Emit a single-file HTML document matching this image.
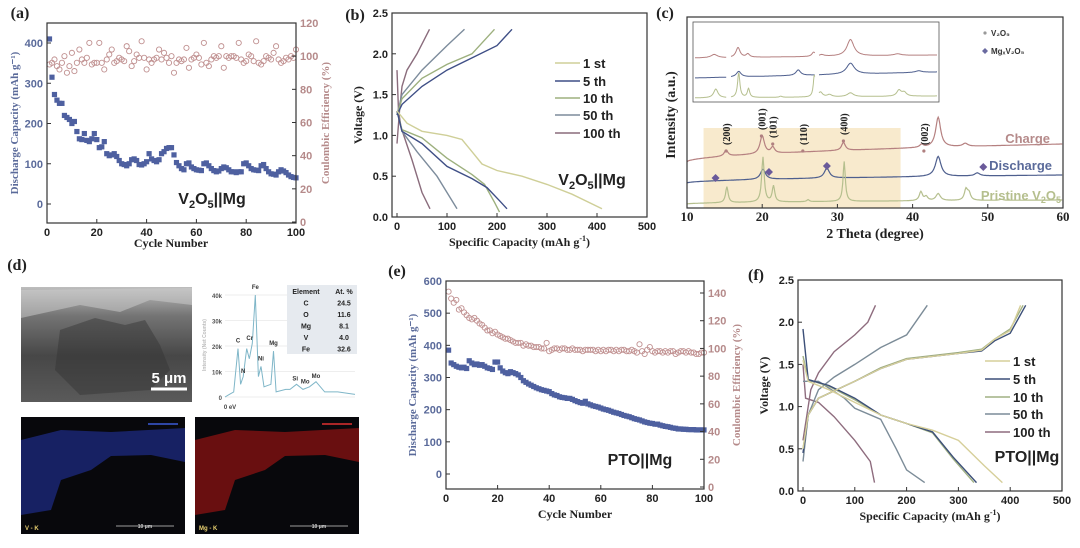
<!DOCTYPE html>
<html><head><meta charset="utf-8"><style>
body{margin:0;background:#fff}
svg{display:block}
.t{font-family:"Liberation Serif",serif;font-weight:bold}
.s{font-family:"Liberation Sans",sans-serif;font-weight:bold}
</style></head><body>
<svg id="fig" width="1080" height="548" viewBox="0 0 1080 548" xmlns="http://www.w3.org/2000/svg">
<defs>
<linearGradient id="sem" x1="0" y1="0" x2="0" y2="1"><stop offset="0" stop-color="#bdbdbd"/><stop offset="0.25" stop-color="#747474"/><stop offset="0.6" stop-color="#474747"/><stop offset="1" stop-color="#5a5a5a"/></linearGradient>
</defs>
<g id="root"></g>
</svg>
<script>
// ---------- data ----------
const aCycles=[];for(let i=1;i<=100;i++)aCycles.push(i);
const aCap=[410,315,272,258,250,250,220,215,210,200,205,180,162,160,175,158,155,162,175,160,140,142,155,125,120,122,125,118,108,100,98,95,100,110,112,108,98,97,100,105,125,112,108,105,110,125,130,138,140,140,122,103,95,88,85,100,102,92,88,85,84,83,100,102,95,88,83,80,82,88,92,90,85,80,80,78,80,80,100,102,95,88,85,84,83,95,98,88,80,75,74,72,80,85,82,78,72,68,66,65];
const aCE=[95,96,98,94,92,96,100,90,94,102,91,96,104,98,96,99,108,95,96,96,108,96,92,98,101,104,96,97,99,98,97,106,103,94,97,101,99,109,99,92,98,96,98,99,104,98,102,99,96,100,90,96,98,97,98,105,93,98,99,101,99,95,108,96,94,98,100,99,100,106,93,100,99,100,100,99,108,98,96,97,101,100,97,109,96,95,97,100,99,98,102,106,98,96,97,99,98,100,99,104];
const eCap=[385,345,340,335,332,330,332,328,352,345,340,342,338,340,335,330,328,325,348,348,330,320,315,312,318,315,312,308,300,290,285,280,276,272,268,265,262,260,258,256,250,246,244,240,238,237,235,235,232,228,225,222,220,226,218,215,212,210,208,205,202,200,198,195,192,190,188,185,182,180,178,175,172,170,168,165,162,160,158,157,155,155,152,150,148,147,145,143,142,140,140,139,139,138,138,138,137,137,137,137];
const eCE=[141,136,133,135,128,129,126,124,122,121,122,120,118,117,115,113,113,111,112,110,109,108,107,107,106,105,104,104,104,102,103,102,102,101,101,101,100,100,104,98,99,100,100,99,100,100,99,99,100,99,99,99,98,99,99,99,99,98,99,98,99,98,99,99,98,99,98,99,99,98,98,99,98,97,103,98,96,99,101,98,97,98,98,97,98,97,98,98,96,97,98,98,97,98,97,97,96,96,97,97];
const aXTicks=[0,20,40,60,80,100], aYTicks=[0,100,200,300,400], aRTicks=[0,20,40,60,80,100,120];
const eYTicks=[0,100,200,300,400,500,600], eRTicks=[0,20,40,60,80,100,120,140];
const gcdXTicks=[0,100,200,300,400,500], gcdYTicks=[0,0.5,1.0,1.5,2.0,2.5];
const xrdXTicks=[10,20,30,40,50,60];
const cycleLabels=["1 st","5 th","10 th","50 th","100 th"];
const bColors=["#cfcf98","#3f4f86","#9db07e","#7d8c9c","#8a6c7c"];
const fColors=["#d6cf9a","#3c4f78","#a0b083","#7c8c98","#8e6c7e"];
const bDis=[
[[0,1.3],[20,1.15],[50,1.05],[100,1.0],[130,0.95],[150,0.8],[170,0.65],[200,0.57],[250,0.5],[300,0.4],[350,0.28],[410,0.1]],
[[0,1.3],[10,1.05],[50,0.9],[100,0.62],[150,0.47],[180,0.36],[205,0.2],[220,0.1]],
[[0,1.3],[10,1.07],[50,0.97],[100,0.72],[150,0.52],[175,0.4],[195,0.18],[205,0.06]],
[[0,1.3],[10,1.05],[40,0.8],[80,0.5],[100,0.3],[120,0.1]],
[[0,1.8],[3,1.3],[8,1.1],[30,0.7],[50,0.3],[66,0.1]]];
const bCha=[
[],
[[0,1.25],[10,1.38],[50,1.6],[100,1.8],[150,1.95],[200,2.1],[230,2.3]],
[[0,1.25],[10,1.45],[50,1.7],[100,1.87],[150,2.0],[195,2.3]],
[[0,1.25],[10,1.5],[50,1.8],[100,2.1],[135,2.3]],
[[0,0.9],[5,1.3],[10,1.6],[20,1.8],[40,2.0],[65,2.3]]];
const fDis=[
[[0,1.55],[10,1.3],[50,1.2],[100,1.05],[150,0.9],[200,0.8],[250,0.72],[300,0.6],[350,0.3],[385,0.1]],
[[0,1.92],[10,1.32],[50,1.25],[100,1.1],[150,0.9],[200,0.8],[250,0.7],[290,0.4],[335,0.1]],
[[0,1.6],[10,1.32],[50,1.24],[100,1.08],[150,0.9],[200,0.8],[250,0.69],[290,0.38],[330,0.1]],
[[0,1.3],[30,1.3],[80,1.1],[100,0.98],[150,0.85],[180,0.5],[200,0.25],[235,0.1]],
[[0,1.5],[5,1.1],[30,1.05],[60,0.88],[100,0.6],[130,0.35],[138,0.1]]];
const fCha=[
[[0,0.5],[10,0.9],[30,1.1],[100,1.3],[150,1.45],[200,1.56],[300,1.63],[345,1.67],[370,1.8],[400,1.9],[420,2.2]],
[[0,0.45],[10,0.9],[30,1.1],[100,1.3],[150,1.45],[200,1.56],[300,1.63],[345,1.66],[370,1.78],[400,1.87],[430,2.2]],
[[0,0.5],[10,0.9],[30,1.1],[100,1.3],[150,1.46],[200,1.57],[300,1.64],[345,1.68],[370,1.8],[400,1.92],[425,2.2]],
[[0,0.35],[10,0.9],[30,1.2],[60,1.35],[100,1.5],[150,1.7],[200,1.85],[240,2.2]],
[[0,0.6],[15,1.2],[30,1.4],[60,1.65],[100,1.85],[125,2.0],[140,2.2]]];
const xrdNames=["Charge","Discharge","Pristine"];
const xrdColors=["#b58080","#4e5f8e","#b5bf8e"];
const xrdBase=[[0,18],[0,8],[0,4]];
const xrdPeaks=[
[[15.2,6,0.3],[20.0,18,0.35],[21.4,6,0.3],[30.8,8,0.3],[41.2,3,0.3],[43.4,30,0.4],[47.0,3,0.4]],
[[20.1,10,0.4],[28.6,10,0.4],[43.4,20,0.45],[48.6,3,0.4]],
[[15.3,16,0.2],[20.1,45,0.2],[21.5,16,0.2],[26.1,2,0.2],[30.9,40,0.18],[41.1,9,0.25],[41.8,4,0.25],[43.4,7,0.35],[47.1,11,0.25],[47.5,7,0.25],[51.8,1,0.3]]];
const eds=[[0,0],[1,1],[2,2],[3,19],[3.6,5],[4.2,8],[5,19],[5.6,15],[6.3,21],[7,40],[7.7,8],[8.3,12],[9,4],[10.6,5],[11.2,18],[11.8,2],[14,3],[15,3],[16.5,5],[18,3],[19.5,4],[21,6],[23,2],[26,2],[30,1]];
// ---------- helpers ----------
const NS="http://www.w3.org/2000/svg";const root=document.getElementById('root');
function el(tag,attrs,parent,txt){const e=document.createElementNS(NS,tag);for(const k in attrs)e.setAttribute(k,attrs[k]);if(txt!==undefined)e.textContent=txt;(parent||root).appendChild(e);return e;}
function grp(name){const g=el('g',{});return g;}
function lin(d0,d1,r0,r1){return v=>r0+(v-d0)/(d1-d0)*(r1-r0);}
function txt(g,x,y,s,opt){opt=opt||{};const t=el('text',{x:x,y:y,'font-size':opt.fs||11,fill:opt.fill||'#222','text-anchor':opt.anchor||'middle',class:opt.cls||'t'},g,s);if(opt.rot)t.setAttribute('transform','rotate(-90 '+x+' '+y+')');return t;}
function frame(g,x0,y0,x1,y1){const r=el('rect',{x:x0,y:y0,width:x1-x0,height:y1-y0,fill:'none',stroke:'#333','stroke-width':1.2},g);}
function xticks(g,ticks,sx,y,opt){opt=opt||{};ticks.forEach(v=>{const X=sx(v);const l=el('line',{x1:X,y1:y,x2:X,y2:y-4,stroke:'#333'},g);txt(g,X,y+13,String(v),{fs:opt.fs||11,cls:opt.cls||'s',fill:opt.fill||'#222',name:'x-tick-label'});});}
function yticks(g,ticks,sy,x,side,opt){opt=opt||{};ticks.forEach(v=>{const Y=sy(v);const l=el('line',{x1:x,y1:Y,x2:x+(side<0?4:-4),y2:Y,stroke:'#333'},g);const s=opt.fmt?opt.fmt(v):String(v);txt(g,side<0?x-4:x+4,Y+4,s,{fs:opt.fs||11,cls:'s',fill:opt.fill||'#222',anchor:side<0?'end':'start',name:'y-tick-label'});});}
function poly(g,pts,sx,sy,color,w,name){const d=pts.map((p,i)=>(i?'L':'M')+sx(p[0]).toFixed(1)+' '+sy(p[1]).toFixed(1)).join(' ');const p=el('path',{d:d,fill:'none',stroke:color,'stroke-width':w||1.4},g);return p;}

// ---------- panel a ----------
(function(){const g=grp('panel-a');
const X0=47,X1=296,Y0=23,Y1=223;const sx=lin(0,100,X0,X1),sy=lin(0,400,204,43),sr=lin(0,120,222,23);
txt(g,20,18,'(a)',{fs:16,anchor:'middle',name:'panel-label-a'});
aCE.forEach((v,i)=>{const c=el('circle',{cx:sx(aCycles[i]),cy:sr(v),r:2.6,fill:'none',stroke:'#c09090','stroke-width':0.9},g);});
aCap.forEach((v,i)=>{const r=el('rect',{x:sx(aCycles[i])-2.6,y:sy(v)-2.6,width:5.2,height:5.2,fill:'#4e60a0'},g);});
frame(g,X0,Y0,X1,Y1);
xticks(g,aXTicks,sx,Y1,{});yticks(g,aYTicks,sy,X0,-1,{fill:'#5a6a9a'});yticks(g,aRTicks,sr,X1,1,{fill:'#b58a8a'});
txt(g,171,247,'Cycle Number',{fs:12,name:'x-axis-title'});
txt(g,18,123,'Discharge Capacity (mAh g⁻¹)',{fs:11,rot:1,fill:'#5a6a9a',name:'y-axis-title'});
txt(g,329,123,'Coulombic Efficiency (%)',{fs:11,rot:1,fill:'#b58a8a',name:'y2-axis-title'});
const t=txt(g,212,204,'',{fs:16,cls:'s',name:'series-label'});t.innerHTML='V<tspan font-size="11" dy="4">2</tspan><tspan dy="-4">O</tspan><tspan font-size="11" dy="4">5</tspan><tspan dy="-4">||Mg</tspan>';
})();

// ---------- GCD panels ----------
function gcd(name,label,lx,ly,X0,X1,Y0,Y1,dis,cha,colors,legY,legX,tag,tagX,tagY){const g=grp(name);
const sx=lin(0,500,X0+5,X1),sy=lin(0,2.5,Y1,Y0);
txt(g,lx,ly,label,{fs:16,name:'panel-label'});
for(let i=dis.length-1;i>=0;i--){poly(g,dis[i],sx,sy,colors[i],1.4,'discharge-'+cycleLabels[i].replace(' ',''));if(cha[i].length)poly(g,cha[i],sx,sy,colors[i],1.4,'charge-'+cycleLabels[i].replace(' ',''));}
frame(g,X0,Y0,X1,Y1);
xticks(g,gcdXTicks,sx,Y1,{});yticks(g,gcdYTicks,sy,X0,-1,{fmt:v=>v.toFixed(1)});
txt(g,(X0+X1)/2,Y1+29,'',{fs:12,name:'x-axis-title'}).innerHTML='Specific Capacity (mAh g<tspan font-size="8" dy="-5">-1</tspan><tspan dy="5">)</tspan>';
txt(g,X0-30,(Y0+Y1)/2,'Voltage (V)',{fs:12,rot:1,name:'y-axis-title'});
cycleLabels.forEach((s,i)=>{const y=legY[i];const l=el('line',{x1:legX,y1:y,x2:legX+25,y2:y,stroke:colors[i],'stroke-width':1.6},g);txt(g,legX+28,y+5,s,{fs:13,cls:'s',anchor:'start',name:'legend-entry'});});
const t=txt(g,tagX,tagY,'',{fs:16,cls:'s',name:'series-label'});t.innerHTML=tag;}
gcd('panel-b','(b)',355,20,392,647,13,217,bDis,bCha,bColors,[63,81,98,115,133],555,'V<tspan font-size="11" dy="4">2</tspan><tspan dy="-4">O</tspan><tspan font-size="11" dy="4">5</tspan><tspan dy="-4">||Mg</tspan>',592,185);
gcd('panel-f','(f)',756,280,798,1062,280,491,fDis,fCha,fColors,[361,379,397,414,432],985,'PTO||Mg',1027,462);

// ---------- panel c ----------
(function(){const g=grp('panel-c');const X0=687,X1=1063,Y0=17,Y1=208;const sx=lin(10,60,X0,X1);
txt(g,665,18,'(c)',{fs:16,name:'panel-label-c'});
const sh=el('rect',{x:sx(12.2),y:128,width:sx(38.4)-sx(12.2),height:Y1-128,fill:'#f7e6c4',opacity:0.85},g);
const baseY=[162,183,204];
xrdPeaks.forEach((pk,k)=>{const pts=[];for(let t=10;t<=60;t+=0.1){let v=xrdBase[k][0]+(xrdBase[k][1]-xrdBase[k][0])*Math.sqrt((t-10)/50);pk.forEach(p=>{v+=p[1]/(1+((t-p[0])/p[2])**2);});pts.push([t,baseY[k]-v]);}
poly(g,pts,sx,y=>y,xrdColors[k],1.2,'xrd-'+xrdNames[k].toLowerCase());});
frame(g,X0,Y0,X1,Y1);xticks(g,xrdXTicks,sx,Y1,{cls:'t',fs:13});
txt(g,875,238,'2 Theta (degree)',{fs:14,name:'x-axis-title'});
txt(g,675,115,'Intensity (a.u.)',{fs:14,rot:1,name:'y-axis-title'});
txt(g,1050,143,'Charge',{fs:13,cls:'s',fill:'#b58a8a',anchor:'end',name:'trace-label'});
txt(g,1052,170,'Discharge',{fs:13,cls:'s',fill:'#5a6a9a',anchor:'end',name:'trace-label'});
txt(g,1061,200,'',{fs:13,cls:'s',fill:'#b5bf8e',anchor:'end',name:'trace-label'}).innerHTML='Pristine V<tspan font-size="9" dy="3">2</tspan><tspan dy="-3">O</tspan><tspan font-size="9" dy="3">5</tspan>';
[['(200)',15.2,145],['(001)',19.9,130],['(101)',21.4,138],['(110)',25.4,145],['(400)',30.8,135],['(002)',41.5,145]].forEach(a=>{const X=sx(a[1]);el('circle',{cx:X,cy:a[2]+6,r:1.6,fill:'#b08080'},g);txt(g,X+4,a[2],a[0],{fs:10,rot:1,anchor:'start',name:'peak-label'});});
[[13.8,178],[20.9,172],[28.6,166],[49.4,167]].forEach(d=>{const X=sx(d[0]);const p=el('path',{d:`M${X} ${d[1]-4}L${X+4} ${d[1]}L${X} ${d[1]+4}L${X-4} ${d[1]}Z`,fill:'#6a5a9a'},g);});
el('circle',{cx:985,cy:33,r:1.6,fill:'#999'},g);txt(g,991,36,'V₂O₅',{fs:8,cls:'s',anchor:'start',fill:'#333',name:'legend-entry'});
el('path',{d:'M985 48l3 3-3 3-3-3z',fill:'#6a6aa0'},g);txt(g,991,54,'MgₓV₂O₅',{fs:8,cls:'s',anchor:'start',fill:'#333',name:'legend-entry'});
const ig=grp('inset');g.appendChild(ig);const I0=693,I1=939,IY0=22,IY1=102;
el('rect',{x:I0,y:IY0,width:I1-I0,height:IY1-IY0,fill:'#fff',stroke:'#555','stroke-width':0.8},ig);
const segs=[[I0+2,I0+34,14,16],[I0+38,I0+122,19,31],[I0+126,I1-2,41,50]];
const inBase=[[58,55],[78,72],[98,96]];
segs.forEach((s,si)=>{const sxx=lin(s[2],s[3],s[0],s[1]);[0,1,2].forEach(k=>{const pts=[];for(let t=s[2];t<=s[3];t+=0.05){const fr=(sxx(t)-I0)/(I1-I0);let v=inBase[k][0]+(inBase[k][1]-inBase[k][0])*fr;xrdPeaks[k].forEach(p=>{v-=p[1]*0.55/(1+((t-p[0])/(p[2]*(si==1?1:0.8)))**2);});pts.push([t,v]);}poly(ig,pts,sxx,y=>y,xrdColors[k],1,'inset-trace');});});
})();

// ---------- panel d ----------
(function(){const g=grp('panel-d');txt(g,17,270,'(d)',{fs:16,name:'panel-label-d'});
const r=el('rect',{x:21,y:287,width:171,height:115,fill:'url(#sem)'},g);
el('path',{d:'M60 330 L95 318 L125 325 L145 320 L160 345 L170 370 L150 390 L80 395 L55 370 Z',fill:'#333',opacity:0.45},g);
el('path',{d:'M21 290 L192 288 L192 305 L150 300 L120 312 L80 305 L21 318Z',fill:'#cfcfcf',opacity:0.5},g);
el('line',{x1:151,y1:389,x2:187,y2:389,stroke:'#fff','stroke-width':3},g);
txt(g,169,383,'5 μm',{fs:15,cls:'s',fill:'#fff',name:'scale-bar-label'});
const sx=lin(0,30,225,355),sy=lin(0,40,397,295);
[0,10,20,30,40].forEach(v=>{el('line',{x1:225,y1:sy(v),x2:355,y2:sy(v),stroke:'#ddd','stroke-width':0.6},g);txt(g,222,sy(v)+3,v?v+'k':'0',{fs:6,cls:'s',fill:'#555',anchor:'end',name:'eds-tick'});});
poly(g,eds,sx,sy,'#7fb6c8',1,'eds-spectrum');
txt(g,230,409,'0 eV',{fs:6,cls:'s',fill:'#444',name:'eds-x-label'});
txt(g,206,345,'Intensity (Net Counts)',{fs:5,cls:'s',fill:'#bbb',rot:1,name:'eds-y-title'});
[['Fe',7,42],['C',3,21],['Cr',5.7,22],['Mg',11.2,20],['Ni',8.3,14],['N',4.2,9],['Si',16.2,6],['Mo',18.5,5],['Mo',21,7]].forEach(a=>txt(g,sx(a[1]),sy(a[2])-1,a[0],{fs:6,cls:'s',fill:'#333',name:'eds-peak-label'}));
const tb=el('rect',{x:287,y:285,width:70,height:69,fill:'#e6eaef'},g);
[['Element','At. %'],['C','24.5'],['O','11.6'],['Mg','8.1'],['V','4.0'],['Fe','32.6']].forEach((row,i)=>{txt(g,306,294+i*11.5,row[0],{fs:7,cls:'s',name:'table-cell'});txt(g,344,294+i*11.5,row[1],{fs:7,cls:'s',name:'table-cell'});});
[[21,'#1c2a80','V - K','#3b5bd8'],[195,'#8a1212','Mg - K','#e03030']].forEach(m=>{const x=m[0];const b=el('rect',{x:x,y:417,width:164,height:117,fill:'#08080c'},g);
el('path',{d:`M${x} 440 L${x+40} 430 L${x+90} 432 L${x+164} 428 L${x+164} 462 L${x+130} 455 L${x+90} 456 L${x+70} 470 L${x+40} 480 L${x+30} 510 L${x} 515 Z`,fill:m[1],opacity:0.75},g);
el('line',{x1:x+127,y1:424,x2:x+157,y2:424,stroke:m[3],'stroke-width':1.5},g);
el('line',{x1:x+95,y1:526,x2:x+153,y2:526,stroke:'#ccc','stroke-width':0.8},g);
txt(g,x+124,528,'10 μm',{fs:5,cls:'s',fill:'#ccc',name:'map-scale'});
txt(g,x+4,530,m[2],{fs:6,cls:'s',fill:'#e8d070',anchor:'start',name:'map-label'});});
})();

// ---------- panel e ----------
(function(){const g=grp('panel-e');const X0=446,X1=704,Y0=281,Y1=489;const sx=lin(0,100,X0,X1),sy=lin(0,600,474,281),sr=lin(0,140,487,293);
txt(g,397,276,'(e)',{fs:16,name:'panel-label-e'});
eCE.forEach((v,i)=>{const c=el('circle',{cx:sx(aCycles[i]),cy:sr(v),r:2.6,fill:'none',stroke:'#c09090','stroke-width':0.9},g);});
eCap.forEach((v,i)=>{const r=el('rect',{x:sx(aCycles[i])-2.6,y:sy(v)-2.6,width:5.2,height:5.2,fill:'#4e60a0'},g);});
frame(g,X0,Y0,X1,Y1);xticks(g,aXTicks,sx,Y1,{});yticks(g,eYTicks,sy,X0,-1,{fill:'#5a6a9a'});yticks(g,eRTicks,sr,X1,1,{fill:'#b58a8a'});
txt(g,575,518,'Cycle Number',{fs:12,name:'x-axis-title'});
txt(g,416,385,'Discharge Capacity (mAh g⁻¹)',{fs:11,rot:1,fill:'#5a6a9a',name:'y-axis-title'});
txt(g,740,385,'Coulombic Efficiency (%)',{fs:11,rot:1,fill:'#b58a8a',name:'y2-axis-title'});
txt(g,640,465,'PTO||Mg',{fs:16,cls:'s',name:'series-label'});
})();
</script>
</body></html>
